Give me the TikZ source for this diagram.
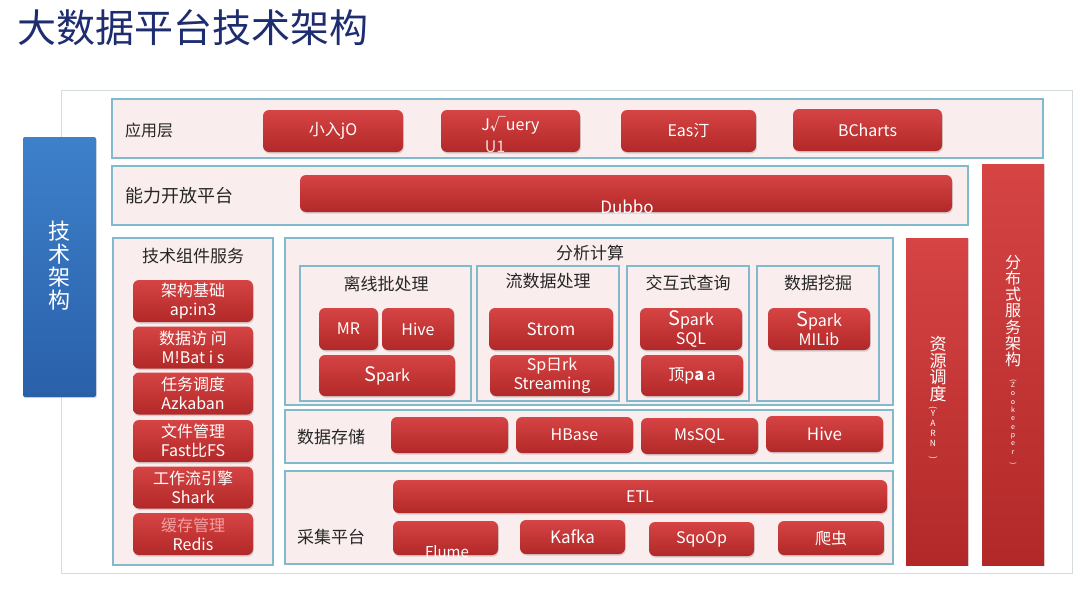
\documentclass[tikz,border=0pt]{standalone}
\usepackage{fontspec}
\setmainfont{Noto Sans CJK SC}
\usetikzlibrary{shadows}
\definecolor{titleblue}{RGB}{30,44,112}
\definecolor{panelfill}{RGB}{250,237,237}
\definecolor{panelline}{RGB}{128,186,204}
\definecolor{btntop}{RGB}{214,68,68}
\definecolor{btnbot}{RGB}{178,40,40}
\definecolor{bluetop}{RGB}{62,128,202}
\definecolor{bluebot}{RGB}{42,96,170}
\definecolor{framegray}{RGB}{212,220,224}
\definecolor{palepink}{RGB}{246,160,160}
\newcommand{\fs}[2]{\fontsize{#1}{#2}\selectfont}
\newcommand{\bigS}{{\fs{20}{20}S}}
\tikzset{
  wh/.style 2 args={minimum width=#1, minimum height=#2},
  panel/.style={draw=panelline, fill=panelfill, line width=1.2pt},
  btn/.style={rounded corners=6pt, top color=btntop, bottom color=btnbot,
    text=white, font=\fs{16}{19}, align=center, inner sep=0pt,
    drop shadow={shadow xshift=0.8pt, shadow yshift=-1.6pt, opacity=0.3}},
  bar/.style={top color=btntop, bottom color=btnbot, inner sep=0pt,
    drop shadow={shadow xshift=0.8pt, shadow yshift=-1.2pt, opacity=0.25}},
  plabel/.style={font=\fs{17}{19}, text=black!85, inner sep=0pt},
  vtext/.style={text=white, align=center, inner sep=0pt},
}
\begin{document}
\begin{tikzpicture}[x=1pt, y=-1pt]
  \useasboundingbox[fill=white] (0,0) rectangle (1080,605);
  % title
  \node[anchor=west, font=\fs{39}{40}, text=titleblue, inner sep=0pt] (title) at (17,28) {大数据平台技术架构};
  % frame
  \draw[framegray, line width=1pt] (61,90) rectangle (1072,573);
  % left blue tab
  \node[rounded corners=2pt, top color=bluetop, bottom color=bluebot, wh={73}{260},
    drop shadow={shadow xshift=0.8pt, shadow yshift=-1.2pt, opacity=0.25}] (arch) at (59.5,267) {};
  \node[vtext, font=\fs{22}{23}] (archtxt) at (59.5,266) {技\\术\\架\\构};
  % panels
  \draw[panel] (112,99) rectangle (1043,158);
  \draw[panel] (112,166) rectangle (968,225);
  \draw[panel] (113,238) rectangle (273,565);
  \draw[panel] (285,238) rectangle (893,405);
  \draw[panel] (300,266) rectangle (471,401);
  \draw[panel] (477,266) rectangle (619,401);
  \draw[panel] (627,266) rectangle (749,401);
  \draw[panel] (757,266) rectangle (879,401);
  \draw[panel] (285,410) rectangle (893,463);
  \draw[panel] (285,471) rectangle (893,564);
  % panel labels
  \node[plabel, anchor=west, font=\fs{16}{18}] (applbl) at (125,130) {应用层};
  \node[plabel, anchor=west, font=\fs{18}{20}] (openlbl) at (125,196) {能力开放平台};
  \node[plabel] (complbl) at (193,256) {技术组件服务};
  \node[plabel] (analbl) at (590,253) {分析计算};
  \node[plabel] (offlbl) at (386,284) {离线批处理};
  \node[plabel] (streamlbl) at (548,281) {流数据处理};
  \node[plabel] (querylbl) at (688,283) {交互式查询};
  \node[plabel] (minelbl) at (818,283) {数据挖掘};
  \node[plabel, anchor=west] (storelbl) at (297,437) {数据存储};
  \node[plabel, anchor=west] (colllbl) at (297,537) {采集平台};
  % application layer
  \node[btn, wh={140}{42}] (xiaoru) at (333,131) {小入jO};
  \node[btn, wh={139}{42}] (jquery) at (510.5,131) {};
  \node[vtext, font=\fs{16}{19}] (jqtxt) at (510.5,125) {J√uery};
  \node[vtext, font=\fs{16}{19}, text=white!80!btntop] (jqtxt2) at (495,147) {U1};
  \node[btn, wh={135}{42}] (easyui) at (688.5,131) {Eas汀};
  \node[btn, wh={149}{42}] (echarts) at (867.5,130) {BCharts};
  % open platform
  \node[btn, wh={652}{37}] (dubbo) at (626,193.5) {};
  \node[vtext, font=\fs{17}{19}] (dubbotxt) at (627,207) {Dubbo};
  % component services
  \node[btn, wh={120}{42}] (frame) at (193,301) {架构基础\\ap:in3};
  \node[btn, wh={120}{42}] (access) at (193,347.5) {数据访 问\\M!Bat i s};
  \node[btn, wh={120}{42}] (sched) at (193,393.5) {任务调度\\Azkaban};
  \node[btn, wh={120}{42}] (files) at (193,441) {文件管理\\Fast比FS};
  \node[btn, wh={120}{42}] (flow) at (193,487.5) {工作流引擎\\Shark};
  \node[btn, wh={120}{42}] (cache) at (193,534) {\textcolor{palepink}{缓存管理}\\Redis};
  % analysis
  \node[btn, wh={59}{42}] (mr) at (348.5,329) {MR};
  \node[btn, wh={72}{42}] (hiveA) at (418,329) {Hive};
  \node[btn, wh={136}{41}] (spark) at (387,375.5) {\bigS park};
  \node[btn, wh={124}{42}] (strom) at (551,329) {\fs{17}{19}Strom};
  \node[btn, wh={124}{41}] (sstream) at (552,375.5) {Sp日rk\\Streaming};
  \node[btn, wh={102}{42}] (ssql) at (691,329) {\bigS park\\SQL};
  \node[btn, wh={102}{41}] (impala) at (692,375.5) {顶p\textbf{a}\,a};
  \node[btn, wh={102}{42}] (mllib) at (819,329) {\bigS park\\MILib};
  % storage
  \node[btn, wh={117}{36}] (hdfs) at (449.5,435) {};
  \node[btn, wh={117}{36}] (hbase) at (574.5,435) {HBase};
  \node[btn, wh={117}{36}] (mssql) at (699.5,436) {MsSQL};
  \node[btn, wh={117}{36}] (hiveB) at (824.5,434) {\fs{17}{19}Hive};
  % collection
  \node[btn, wh={494}{33}] (etl) at (640,496.5) {ETL};
  \node[btn, wh={105}{34}] (flume) at (445.5,538) {};
  \node[vtext, font=\fs{15}{17}] (flumetxt) at (447,552) {Flume};
  \node[btn, wh={105}{34}] (kafka) at (572.5,537) {\fs{17}{19}Kafka};
  \node[btn, wh={105}{34}] (sqoop) at (701.5,539) {SqoOp};
  \node[btn, wh={106}{34}] (crawler) at (831,538) {爬虫};
  % resource scheduling and distributed services
  \node[bar, wh={62}{327}] (yarn) at (937,401.5) {};
  \node[vtext, font=\fs{17}{16.5}] (yarntxt) at (938,369) {资\\源\\调\\度};
  \node[vtext, font=\fs{8.5}{10}] (yarnsub) at (933,433) {\rotatebox{-90}{(}\\Y\\A\\R\\N\\\rotatebox{-90}{)}};
  \node[bar, wh={62}{401}] (zk) at (1013,364.5) {};
  \node[vtext, font=\fs{16}{16.2}] (zktxt) at (1013,311) {分\\布\\式\\服\\务\\架\\构};
  \node[vtext, font=\fs{7}{8.3}] (zksub) at (1013,422) {\rotatebox{-90}{(}\\Z\\o\\o\\k\\e\\e\\p\\e\\r\\\rotatebox{-90}{)}};
\end{tikzpicture}
\end{document}
